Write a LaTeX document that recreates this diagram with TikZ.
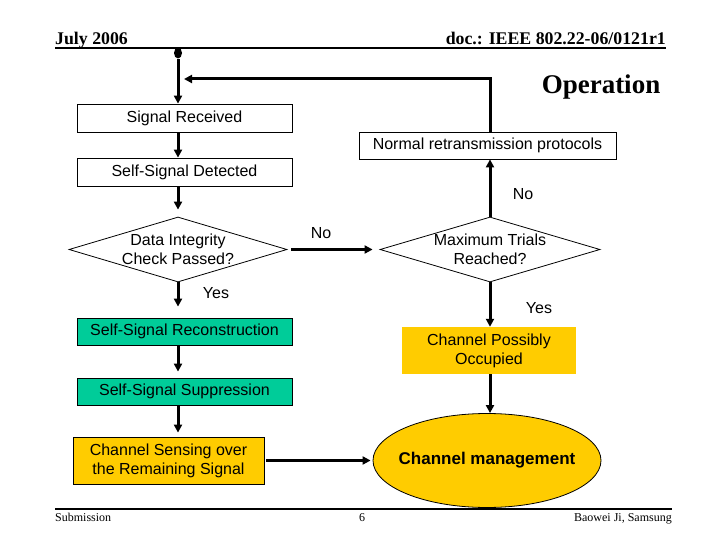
\documentclass[tikz,border=0pt]{standalone}
\usepackage{fontspec}
\setmainfont{Liberation Serif}
\newfontfamily\arialf{Liberation Sans}
\usetikzlibrary{shapes.geometric,arrows.meta}
\definecolor{tealbox}{RGB}{0,204,153}
\definecolor{goldbox}{RGB}{255,204,0}
\begin{document}
\begin{tikzpicture}[x=1pt,y=-1pt,
  sans/.style={font=\arialf\fontsize{16}{19}\selectfont},
  box/.style={sans,draw,line width=0.8pt,inner sep=0pt,align=center},
  diam/.style={sans,draw,line width=0.8pt,shape=diamond,inner sep=-6pt,align=center,aspect=3.4},
  conn/.style={line width=3pt,-{Triangle[length=8pt,width=8pt]}},
  lbl/.style={sans,inner sep=0pt},
  hdr/.style={font=\bfseries\fontsize{17.8}{20}\selectfont,inner sep=0pt},
  ftr/.style={font=\fontsize{12}{14}\selectfont,inner sep=0pt}]
\useasboundingbox[fill=white] (0,0) rectangle (720,540);

% header and footer
\node[hdr,anchor=base west] (july) at (55,45) {July 2006};
\node[hdr,anchor=base east] (doc) at (666,45) {doc.: IEEE 802.22-06/0121r1};
\draw[line width=2pt] (55,48) -- (666,48);
\node[font=\bfseries\fontsize{27}{30}\selectfont,inner sep=0pt,anchor=base] (op) at (601,94) {Operation};
\draw[line width=2pt] (55,509) -- (672,509);
\node[ftr,anchor=base west] (sub) at (55,521) {Submission};
\node[ftr,anchor=base] (pg) at (362,521) {6};
\node[ftr,anchor=base east] (auth) at (672,521) {Baowei Ji, Samsung};

% nodes
\node[fill,ellipse,minimum width=8pt,minimum height=11pt,inner sep=0pt] (dot) at (178,53) {};
\node[box,minimum width=215pt,minimum height=28pt] (sr) at (184.5,118) {Signal Received};
\node[box,minimum width=257pt,minimum height=27pt] (nr) at (487.5,145.5) {Normal retransmission protocols};
\node[box,minimum width=215pt,minimum height=28pt] (sd) at (184.5,172) {Self-Signal Detected};
\node[diam,minimum width=218pt,minimum height=65pt] (di) at (178,249.5) {Data Integrity\\Check Passed?};
\node[diam,minimum width=220pt,minimum height=65pt] (mt) at (490,249.5) {Maximum Trials\\Reached?};
\node[box,fill=tealbox,minimum width=215pt,minimum height=27pt] (rec) at (184.5,331.5) {Self-Signal Reconstruction};
\node[box,fill=tealbox,minimum width=215pt,minimum height=27pt] (sup) at (184.5,391.5) {Self-Signal Suppression};
\node[box,fill=goldbox,minimum width=191pt,minimum height=47pt] (cs) at (168.5,460.5) {Channel Sensing over\\the Remaining Signal};
\node[sans,fill=goldbox,inner sep=0pt,align=center,minimum width=174pt,minimum height=47pt] (cp) at (489,350.5) {Channel Possibly\\Occupied};
\node[ellipse,draw,line width=0.8pt,fill=goldbox,minimum width=228pt,minimum height=94pt,inner sep=-12pt,font=\arialf\bfseries\fontsize{17}{20}\selectfont] (cm) at (487,460.5) {Channel management};

% labels
\node[lbl] (no1) at (321,233) {No};
\node[lbl] (no2) at (523,194) {No};
\node[lbl] (yes1) at (216,293) {Yes};
\node[lbl] (yes2) at (539,308) {Yes};

% connectors
\draw[conn] (dot.south) -- (dot |- sr.north);
\draw[conn] (dot |- sr.south) -- (dot |- sd.north);
\draw[conn,shorten >=7pt] (dot |- sd.south) -- (di.north);
\draw[conn,shorten >=11pt] (di.south) -- (di.south |- rec.north);
\draw[conn,shorten >=6pt] (dot |- rec.south) -- (dot |- sup.north);
\draw[conn,shorten >=4pt] (dot |- sup.south) -- (dot |- cs.north);
\draw[conn,shorten <=4pt,shorten >=7pt] (di.east) -- (mt.west);
\draw[conn] (mt.north) -- (mt.north |- nr.south);
\draw[conn] (mt.south) -- (mt.south |- cp.north);
\draw[conn] (mt.south |- cp.south) -- (mt.south |- cm.north);
\draw[conn,shorten <=2pt,shorten >=2pt] (cs.east) -- (cm.west);
\coordinate (fbtop) at (mt.north |- 0,79);
\draw[line width=3pt,-{Triangle[length=8pt,width=8pt]},shorten >=6pt] (mt.north |- nr.north) -- (fbtop) -- (dot |- fbtop);
\end{tikzpicture}
\end{document}
